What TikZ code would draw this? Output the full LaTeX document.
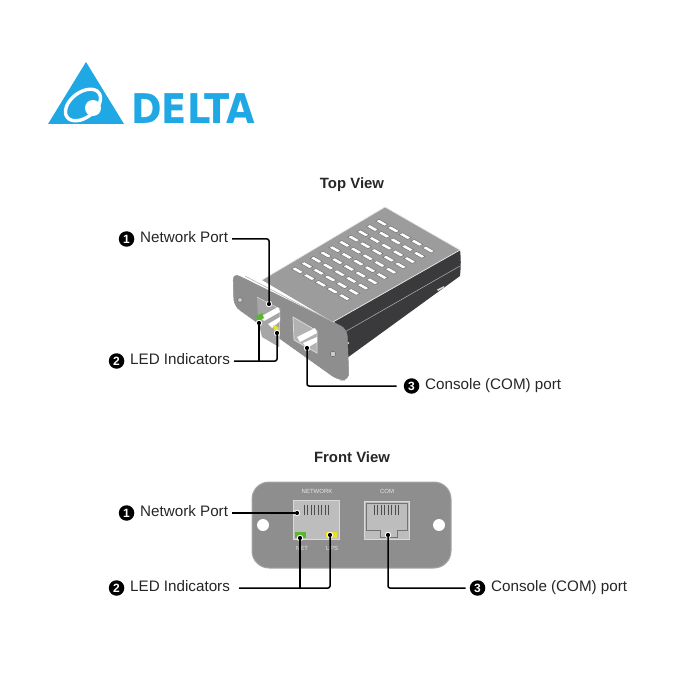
\documentclass[tikz,border=0pt]{standalone}
\usepackage{fontspec}
\setmainfont{Liberation Sans}
\newfontfamily\logofont{DejaVu Sans}
\usetikzlibrary{positioning}
\definecolor{deltaBlue}{HTML}{1FA8E3}
\definecolor{plateGray}{HTML}{8E8E8E}
\definecolor{topGray}{HTML}{9C9C9C}
\definecolor{sideGray}{HTML}{3A3A3C}
\definecolor{portGray}{HTML}{BDBDBD}
\definecolor{ledGreen}{HTML}{55B82E}
\definecolor{ledYellow}{HTML}{E8E21E}
\tikzset{
  calloutText/.style={anchor=west,inner xsep=2pt,inner ysep=0pt,text height=10pt,text depth=3pt,font=\fontsize{15.2}{17}\selectfont,text=black!85},
  viewTitle/.style={font=\bfseries\fontsize{14.9}{17}\selectfont,text=black!85},
  bullet/.style={circle,fill=black,text=white,inner sep=0pt,minimum size=15.5pt,font=\bfseries\fontsize{12}{12}\selectfont},
  leader/.style={line width=1.5pt,black,rounded corners=2pt},
  plateLabel/.style={font=\fontsize{6}{7}\selectfont,text=white!80!plateGray,inner sep=0pt}
}
\begin{document}
\begin{tikzpicture}[x=1pt,y=-1pt]
  \useasboundingbox (0,0) rectangle (700,700);

  % Step 1: logo
  \fill[deltaBlue] (86,62) -- (124,124) -- (48,124) -- cycle;
  \draw[white,line width=3.4pt,rotate around={38:(83,105)}] (83,105) ellipse (20 and 12.5);
  \fill[white] (93,108) circle (8);
  \node[anchor=west,inner sep=0pt,text=deltaBlue,xscale=0.9,font=\logofont\bfseries\fontsize{41}{41}\selectfont] (logoText) at (131,109) {DELTA};

  % Step 2: titles
  \node[viewTitle] (topTitle) at (352,185) {Top View};
  \node[viewTitle] (frontTitle) at (352,457) {Front View};

  % Step 3: top view, body of the device
  \fill[topGray] (385,207) -- (460,250) -- (333,322) -- (262,280) -- cycle;
  \draw[white!75!topGray,line width=.7pt] (262,280) -- (385,207) -- (460,250);
  \fill[sideGray] (460,250) .. controls (461,258) and (461,266) .. (460,276) -- (347,358) -- (333,322) -- cycle;
  \draw[white!70!black,line width=.5pt] (343,333) -- (460,266);
  \draw[white!85!topGray,line width=.7pt] (333,322) -- (460,250);
  \fill[white!85!black] (437,289.5) -- (444,286) -- (444,287.5) -- (438,291) -- cycle;
  \fill[white!85!black] (343,345) -- (349,342) -- (349,343.5) -- (344,346) -- cycle;
  % slots
  \foreach \i in {0,...,9}
    \foreach \j in {0,...,4}
      \draw[black!55,fill=white,line width=.5pt,shift={(381.7-9.35*\i+11.7*\j,222.7+5.3*\i+6.7*\j)}]
        (-6,-1.5) -- (-2.6,-3.4) -- (6,1.5) -- (2.6,3.4) -- cycle;

  % Step 4: top view, front plate
  \draw[plateGray,fill=plateGray,rounded corners=7pt,line width=.5pt] (233,273) -- (347,329) -- (349,380) -- (338,380) -- (234,306) -- cycle;
  \draw[white!70!black,line width=.6pt] (245,276) -- (335,323);
  \draw[black!60,fill=white!80!black,line width=.5pt] (240,300) circle (2.4);
  \draw[black!60,fill=white!80!black,line width=.5pt] (333,354) circle (2.8);
  % network port
  \fill[white!65!black] (257,297) -- (280,309) -- (279,347) -- (262,337) -- (258,320) -- cycle;
  \draw[white!85!black,line width=.5pt] (257,297) -- (280,309) -- (279,347);
  \fill[white] (260,317) -- (278,307) -- (280,312) -- (264,321) -- cycle;
  \fill[white] (268,324) -- (280,317) -- (280,321) -- (272,328) -- cycle;
  \fill[ledGreen] (256,316) -- (262,313) -- (264,318) -- (258,321) -- cycle;
  \fill[ledYellow] (273,325) -- (278,327) -- (279,331) -- (274,330) -- cycle;
  % console port
  \fill[white!70!black] (293,317) -- (317,331) -- (317,353) -- (294,340) -- cycle;
  \draw[white!85!black,line width=.8pt] (293,317) -- (317,331) -- (317,353) -- (294,340) -- cycle;
  \fill[white] (297,337) -- (315,328) -- (317,333) -- (300,342) -- cycle;
  \fill[white] (303,343) -- (317,337) -- (317,342) -- (307,348) -- cycle;

  % Step 5: front view, plate and ports
  \draw[white!65!black,fill=plateGray,line width=1pt,rounded corners=17pt] (252,482) rectangle (451,568);
  \fill[white] (263,525) circle (6);
  \fill[white] (439,525) circle (6);
  \node[plateLabel] (netLabel) at (317,491) {NETWORK};
  \node[plateLabel] (comLabel) at (387,491) {COM};
  \node[plateLabel] (linkLabel) at (302,548) {NET};
  \node[plateLabel] (upsLabel) at (332,548) {UPS};
  \draw[white!85!black,fill=portGray,line width=.6pt] (293,500) rectangle (339,539);
  \draw[white!85!black,fill=portGray,line width=.6pt] (364,501) rectangle (409,539);
  \draw[black!55,line width=.5pt] (366,503) -- (407,503) -- (407,530) -- (397,530) -- (397,537) -- (380,537) -- (380,530) -- (366,530) -- cycle;
  \foreach \x in {304,307.5,...,329}
    \draw[black!70,line width=1pt] (\x,505) -- (\x,515);
  \foreach \x in {374,377.5,...,400}
    \draw[black!70,line width=1pt] (\x,505) -- (\x,515);
  \fill[ledGreen] (295,532) rectangle (306,538);
  \fill[ledYellow] (326,532) rectangle (337,538);

  % Step 6: end points of the connectors
  \coordinate (topNetEnd) at (269,304);
  \coordinate (topGreenEnd) at (259,323);
  \coordinate (topYellowEnd) at (277,333);
  \coordinate (topComEnd) at (307,348);
  \coordinate (frontNetEnd) at (297,513);
  \coordinate (frontGreenEnd) at (300,538);
  \coordinate (frontYellowEnd) at (330,535);
  \coordinate (frontComEnd) at (388,535);
  \foreach \p in {topNetEnd,topGreenEnd,topYellowEnd,topComEnd,frontNetEnd,frontGreenEnd,frontYellowEnd,frontComEnd}
    \fill[white] (\p) circle (3.2);

  % Step 7: callouts of the top view
  \node[calloutText] (topNetText) at (138,239) {Network Port};
  \node[bullet,left=3.5pt of topNetText] (topNetBullet) {1};
  \node[calloutText] (topLedText) at (128,361) {LED Indicators};
  \node[bullet,left=3.5pt of topLedText] (topLedBullet) {2};
  \node[calloutText] (topComText) at (423,386) {Console (COM) port};
  \node[bullet,left=3.5pt of topComText] (topComBullet) {3};
  \draw[leader,shorten <=2pt] (topNetText.east) -| (topNetEnd);
  \draw[leader,shorten <=2pt] (topLedText.east) -| (topYellowEnd);
  \draw[leader] (topGreenEnd) -- (topGreenEnd |- topLedText.east);
  \draw[leader,shorten <=7pt] (topComBullet.west) -| (topComEnd);

  % Step 8: callouts of the front view
  \node[calloutText] (frontNetText) at (138,513) {Network Port};
  \node[bullet,left=3.5pt of frontNetText] (frontNetBullet) {1};
  \node[calloutText] (frontLedText) at (128,588) {LED Indicators};
  \node[bullet,left=3.5pt of frontLedText] (frontLedBullet) {2};
  \node[calloutText] (frontComText) at (489,588) {Console (COM) port};
  \node[bullet,left=3.5pt of frontComText] (frontComBullet) {3};
  \draw[leader,shorten <=2pt] (frontNetText.east) -- (frontNetEnd);
  \draw[leader,shorten <=7pt] (frontLedText.east) -| (frontYellowEnd);
  \draw[leader] (frontGreenEnd) -- (frontGreenEnd |- frontLedText.east);
  \draw[leader,shorten <=4pt] (frontComBullet.west) -| (frontComEnd);

  % Step 9: dots on the connector ends
  \foreach \p in {topNetEnd,topGreenEnd,topYellowEnd,topComEnd,frontNetEnd,frontGreenEnd,frontYellowEnd,frontComEnd}
    \fill[black] (\p) circle (2.1);
\end{tikzpicture}
\end{document}
